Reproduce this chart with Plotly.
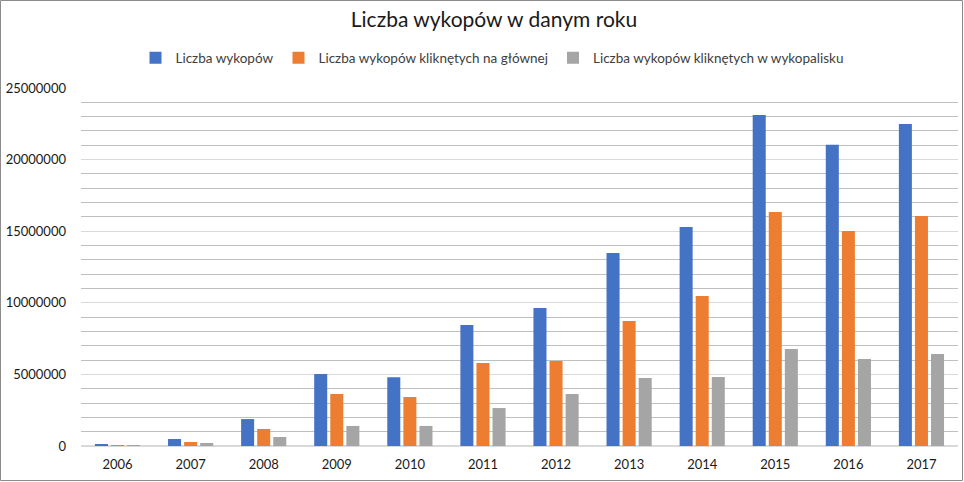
import plotly.graph_objects as go

years = ["2006", "2007", "2008", "2009", "2010", "2011", "2012", "2013", "2014", "2015", "2016", "2017"]
wykopy = [140000, 490000, 1880000, 5030000, 4800000, 8450000, 9630000, 13480000, 15290000, 23110000, 21040000, 22490000]
glowna = [70000, 280000, 1190000, 3630000, 3420000, 5800000, 5940000, 8730000, 10470000, 16340000, 15010000, 16060000]
wykopalisko = [70000, 210000, 630000, 1400000, 1400000, 2650000, 3630000, 4750000, 4820000, 6770000, 6080000, 6420000]

series_names = [
    "Liczba wykopów",
    "Liczba wykopów kliknętych na głównej",
    "Liczba wykopów kliknętych w wykopalisku",
]
series_colors = ["#4472c4", "#ed7d31", "#a5a5a5"]

W, H = 964, 482
margin = dict(l=81, r=6, t=88, b=36)
plot_w = W - margin["l"] - margin["r"]
plot_h = H - margin["t"] - margin["b"]

fig = go.Figure()
for name, vals, color in zip(series_names, [wykopy, glowna, wykopalisko], series_colors):
    fig.add_trace(go.Bar(x=years, y=vals, name=name, marker=dict(color=color, line_width=0)))

fig.update_layout(
    width=W,
    height=H,
    margin=margin,
    paper_bgcolor="white",
    plot_bgcolor="white",
    font=dict(family="Lato, Open Sans, sans-serif", color="#404040", size=13),
    barmode="group",
    bargap=0.34,
    bargroupgap=0.19,
    title=dict(
        text="Liczba wykopów w danym roku",
        font=dict(size=21, color="#1a1a1a"),
        x=494 / W,
        xanchor="center",
        xref="container",
        y=1 - 20 / H,
        yanchor="middle",
        yref="container",
    ),
    legend=dict(
        orientation="h",
        x=492 / W,
        xanchor="center",
        xref="container",
        y=1 - 58 / H,
        yanchor="middle",
        yref="container",
        font=dict(size=13.5, color="#404040"),
        itemwidth=30,
        traceorder="normal",
    ),
    showlegend=True,
)

fig.update_xaxes(
    showgrid=False,
    showline=True,
    linecolor="#d9d9d9",
    linewidth=1,
    ticks="",
    ticklabelstandoff=6,
    tickfont=dict(size=13, color="#1a1a1a"),
)
fig.update_yaxes(
    range=[0, 25000000],
    dtick=5000000,
    tickformat="d",
    showgrid=True,
    gridcolor="#d9d9d9",
    gridwidth=1,
    zeroline=True,
    zerolinecolor="#d9d9d9",
    tickfont=dict(size=13, color="#1a1a1a"),
    ticks="",
    ticklabelstandoff=14,
    minor=dict(dtick=1000000, showgrid=True, gridcolor="#bfbfbf", gridwidth=1),
)

# chart frame like the Excel chart border
fig.add_shape(
    type="rect",
    xref="paper",
    yref="paper",
    x0=-(margin["l"] - 0.5) / plot_w,
    x1=1 + (margin["r"] - 1.5) / plot_w,
    y0=-(margin["b"] - 1.5) / plot_h,
    y1=1 + (margin["t"] - 0.5) / plot_h,
    line=dict(color="#8c8c8c", width=1),
    fillcolor="rgba(0,0,0,0)",
    layer="above",
)

fig.write_html(
    "out.html",
    config={"displayModeBar": False},
    post_script="document.body.style.margin='0';",
)
